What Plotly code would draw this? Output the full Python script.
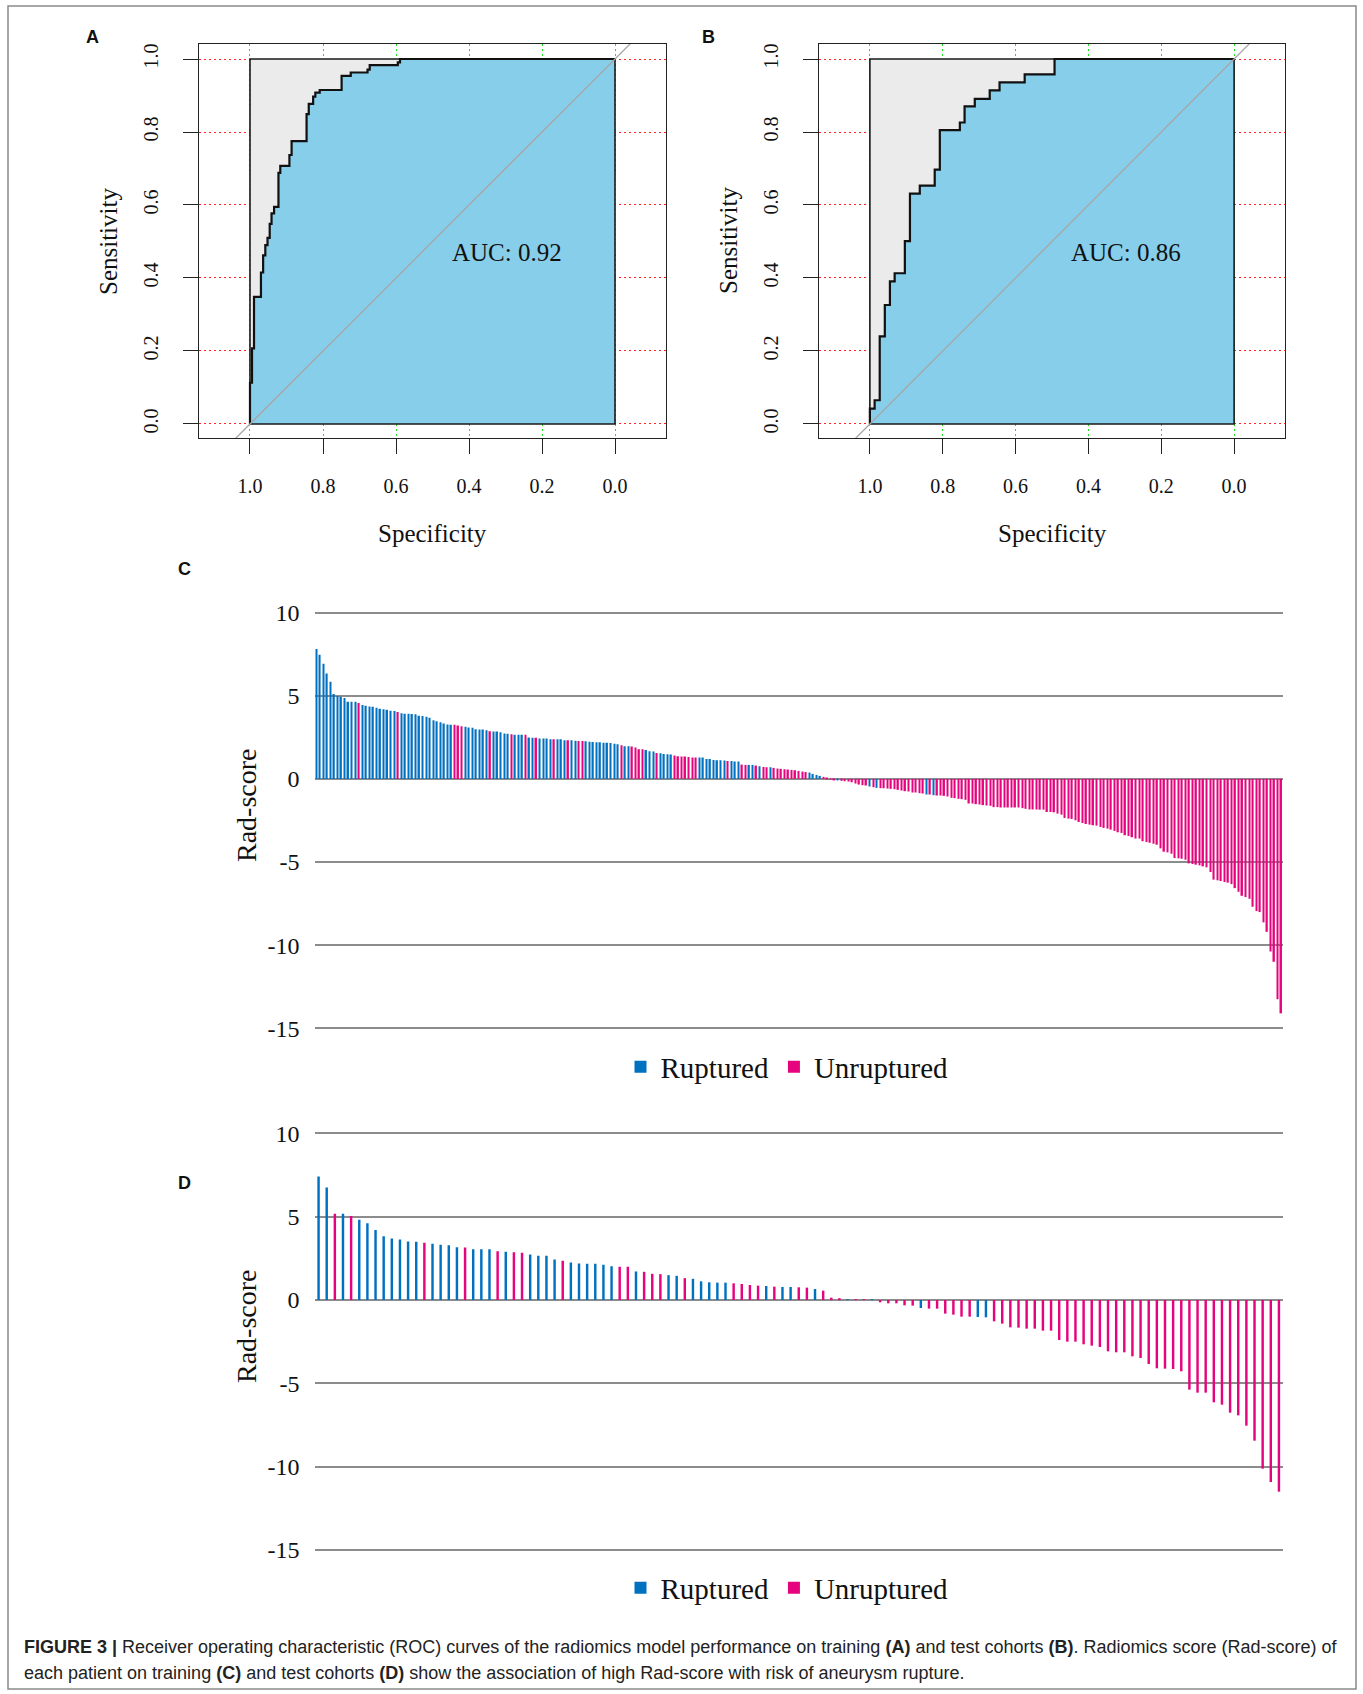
import plotly.graph_objects as go

W, H = 1363, 1694

# ---------------- ROC data (specificity, sensitivity step vertices) ----------------
spec_A = [1.0, 0.9945, 0.989, 0.970, 0.964, 0.958, 0.952, 0.946, 0.941, 0.934, 0.922, 0.917,
          0.892, 0.886, 0.845, 0.839, 0.827, 0.821, 0.809, 0.749, 0.724, 0.678, 0.672, 0.595,
          0.589, 0.0]
sens_A = [0.0, 0.113, 0.207, 0.348, 0.415, 0.462, 0.490, 0.510, 0.548, 0.577, 0.595, 0.688,
          0.707, 0.737, 0.775, 0.849, 0.877, 0.897, 0.908, 0.915, 0.954, 0.963, 0.971, 0.983,
          0.991, 1.0]
spec_B = [1.0, 0.987, 0.973, 0.959, 0.945, 0.932, 0.904, 0.890, 0.863, 0.822, 0.808, 0.753,
          0.740, 0.712, 0.671, 0.644, 0.575, 0.493, 0.0]
sens_B = [0.0, 0.042, 0.065, 0.240, 0.326, 0.391, 0.413, 0.501, 0.631, 0.653, 0.697, 0.805,
          0.826, 0.870, 0.891, 0.914, 0.936, 0.958, 1.0]
auc_A = "AUC: 0.92"
auc_B = "AUC: 0.86"
roc_ticks = [1.0, 0.8, 0.6, 0.4, 0.2, 0.0]
roc_ticktext = ["1.0", "0.8", "0.6", "0.4", "0.2", "0.0"]

# ---------------- Rad-score data ----------------
# training cohort (C), sorted descending
rad_C = [7.81, 7.47, 6.93, 6.33, 5.84, 5.10, 4.98, 4.94, 4.86, 4.64, 4.64, 4.64, 4.56, 4.44,
         4.40, 4.36, 4.34, 4.28, 4.22, 4.18, 4.16, 4.10, 4.08, 4.02, 3.94, 3.92, 3.92, 3.90,
         3.88, 3.80, 3.78, 3.73, 3.67, 3.53, 3.47, 3.41, 3.33, 3.27, 3.25, 3.25, 3.21, 3.17,
         3.13, 3.09, 3.07, 2.99, 2.97, 2.97, 2.93, 2.87, 2.85, 2.85, 2.81, 2.73, 2.71, 2.69,
         2.65, 2.65, 2.65, 2.65, 2.49, 2.47, 2.47, 2.43, 2.43, 2.43, 2.39, 2.39, 2.39,
         2.38, 2.32, 2.32, 2.32, 2.30, 2.28, 2.28, 2.26, 2.24, 2.22, 2.20, 2.20, 2.18, 2.18,
         2.16, 2.12, 2.08, 2.02, 1.96, 1.96, 1.94, 1.88, 1.78, 1.78, 1.74, 1.66, 1.64, 1.56,
         1.54, 1.50, 1.48, 1.46, 1.40, 1.36, 1.34, 1.34, 1.32, 1.28, 1.28, 1.28, 1.28, 1.20,
         1.20, 1.14, 1.12, 1.12, 1.10, 1.08, 1.08, 1.04, 1.04, 0.86, 0.84, 0.84, 0.84, 0.80,
         0.76, 0.72, 0.70, 0.70,
         0.66, 0.62, 0.60, 0.58, 0.56, 0.54, 0.52, 0.48, 0.44, 0.41,
         0.38, 0.30, 0.24, 0.18,
         0.12, 0.06, 0.02, -0.06,
         -0.08,
         -0.12, -0.14, -0.16, -0.20, -0.28, -0.34, -0.38, -0.40,
         -0.46, -0.50, -0.54,
         -0.56, -0.56, -0.58, -0.60, -0.62, -0.66, -0.70, -0.74, -0.76, -0.82, -0.82, -0.86, -0.88,
         -0.94, -0.94, -0.98,
         -1.00, -1.00, -1.02, -1.06, -1.14, -1.16, -1.20, -1.22, -1.26, -1.48, -1.48, -1.52,
         -1.54, -1.58, -1.60, -1.62, -1.70, -1.70, -1.72, -1.72, -1.72, -1.72, -1.72, -1.72,
         -1.76, -1.80, -1.84, -1.84, -1.84,
         -1.85, -1.85, -1.99, -1.99, -2.01, -2.09, -2.15, -2.35, -2.39, -2.41,
         -2.49, -2.59, -2.65, -2.71, -2.75, -2.79, -2.81, -2.89, -2.95, -2.99,
         -3.05, -3.13, -3.21, -3.25, -3.39, -3.43, -3.51, -3.59, -3.59, -3.75,
         -3.80, -3.84, -3.90, -3.96, -4.18, -4.38, -4.42, -4.50, -4.76, -4.78,
         -4.80, -4.86, -5.08, -5.12, -5.16, -5.20, -5.26, -5.32, -5.60, -6.06,
         -6.10, -6.14, -6.20, -6.24, -6.33, -6.57, -6.79, -7.03, -7.11, -7.21,
         -7.69, -7.95, -8.01, -8.63, -9.20, -10.38, -11.00, -13.25, -14.10]
# R = ruptured, U = unruptured (one letter per bar, groups of ten)
grp_C = ("RRRRRRRRRR" "RRURRRRRRR" "RRRURRRRRR" "RRRRRRRRRU" "UURRRRRRRU"
         "RRRRRURRRU" "RRURRRRURR" "RURRUURRRR" "RRRRRRURRU" "UUURRRURRR"
         "RUUUUUUURR" "RRRRRRURRR" "UURRURUURU" "UUUUUUUUUR" "RRRUUUURUU"
         "UUUUUURURU" "UUUUUUUUUU" "UURURUUUUU"
         "UUUUUUUUUU" "UUUUUUUUUU" "UUUUUUUUUU" "UUUUUUUUUU" "UUUUUUUUUU"
         "UUUUUUUUUU" "UUUUUUUUUU" "UUUUUUUUUU" "UUUUUUUUUU" "UUU")

# test cohort (D)
rad_D = [7.41, 6.75, 5.18, 5.18, 5.04, 4.82, 4.60, 4.20, 3.82, 3.69, 3.63, 3.51, 3.49, 3.43,
         3.37, 3.31, 3.29, 3.17, 3.15, 3.05, 3.05, 3.05, 2.93, 2.89, 2.87, 2.83, 2.73, 2.65,
         2.65, 2.43, 2.35, 2.25, 2.19, 2.17, 2.17, 2.11, 2.03, 1.99, 1.99, 1.71, 1.69, 1.57,
         1.55, 1.49, 1.45, 1.31, 1.27, 1.12, 1.06, 1.04, 1.04, 1.00, 0.96, 0.90, 0.86, 0.84,
         0.80, 0.78, 0.78, 0.76, 0.74, 0.66, 0.56, 0.14, 0.06, 0.04, 0.03, 0.02, 0.01,
         -0.14, -0.20, -0.20, -0.32, -0.34, -0.48, -0.52, -0.52, -0.82, -0.88, -1.00, -1.00,
         -1.02, -1.04, -1.28, -1.42, -1.64, -1.66, -1.72, -1.72, -1.84, -1.84, -2.40, -2.50,
         -2.50, -2.66, -2.74, -2.82, -3.08, -3.14, -3.14, -3.38, -3.48, -3.84, -4.10, -4.12,
         -4.14, -4.28, -5.38, -5.56, -5.56, -6.14, -6.28, -6.76, -6.92, -7.54, -8.44, -10.12,
         -10.92, -11.50]
grp_D = ("RRURURRRRR" "RRRURRRRUR" "RRURUURRRR" "URRRRRRUUR" "UUURRURRRR"
         "RUUUURURRU" "URUUURUURU" "UUUURUUUUU" "URRUUUUUUU"
         "UUUUUUUUUU" "UUUUUUUUUU" "UUUUUUUUU")

rad_ticks = [10, 5, 0, -5, -10, -15]
rad_ticktext = ["10", "5", "0", "-5", "-10", "-15"]
group_names = {"R": "Ruptured", "U": "Unruptured"}
group_colors = {"R": "#0070C0", "U": "#E5047E"}

SERIF = "Liberation Serif"
SANS = "Liberation Sans"


def px(x):
    return x / W


def py(y):
    return 1 - y / H


def step_path(spec, sens):
    xs, ys = [spec[0]], [sens[0]]
    for k in range(1, len(spec)):
        xs += [spec[k - 1], spec[k]]
        ys += [sens[k], sens[k]]
    return xs, ys


fig = go.Figure()

# ---------------- ROC panels ----------------
for i, (spec, sens, auc) in enumerate([(spec_A, sens_A, auc_A), (spec_B, sens_B, auc_B)]):
    xa, ya = ("x", "y") if i == 0 else ("x2", "y2")
    sq_x, sq_y = [1, 0, 0, 1, 1], [0, 0, 1, 1, 0]
    fig.add_trace(go.Scatter(x=sq_x, y=sq_y, fill="toself", fillcolor="#EBEBEB",
                             line=dict(width=0), mode="lines", xaxis=xa, yaxis=ya,
                             showlegend=False, hoverinfo="skip"))
    sx, sy = step_path(spec, sens)
    fig.add_trace(go.Scatter(x=sx + [0, 1, 1], y=sy + [0, 0, 0], fill="toself",
                             fillcolor="#87CEEB", line=dict(width=0), mode="lines",
                             xaxis=xa, yaxis=ya, showlegend=False, hoverinfo="skip"))
    fig.add_trace(go.Scatter(x=sq_x, y=sq_y, mode="lines",
                             line=dict(color="#1a1a1a", width=1.6),
                             xaxis=xa, yaxis=ya, showlegend=False, hoverinfo="skip"))
    fig.add_trace(go.Scatter(x=sx, y=sy, mode="lines", line=dict(color="#111111", width=2.2),
                             xaxis=xa, yaxis=ya, showlegend=False, hoverinfo="skip"))
    fig.add_trace(go.Scatter(x=[1.3, -0.3], y=[-0.3, 1.3], mode="lines",
                             line=dict(color="#A6A6A6", width=1.3),
                             xaxis=xa, yaxis=ya, showlegend=False, hoverinfo="skip"))
    fig.add_annotation(x=0.296, y=0.471, xref=xa, yref=ya, text=auc, showarrow=False,
                       xanchor="center", yanchor="middle",
                       font=dict(family=SERIF, size=25, color="#111111"))

roc_x_common = dict(range=[1.1397, -0.1397], tickvals=roc_ticks, ticktext=roc_ticktext,
                    ticks="outside", ticklen=15, tickwidth=1.2, tickcolor="#222222",
                    showline=True, mirror=True, linecolor="#222222", linewidth=1.3,
                    showgrid=True, gridcolor="#22E022", griddash="1.5px,3.5px", gridwidth=1.3,
                    zeroline=False, tickfont=dict(family=SERIF, size=20, color="#111111"),
                    ticklabelstandoff=15, fixedrange=True, automargin=False)
roc_y_common = dict(range=[-0.0384, 1.0411], tickvals=roc_ticks, ticktext=roc_ticktext,
                    ticks="outside", ticklen=15, tickwidth=1.2, tickcolor="#222222",
                    showline=True, mirror=True, linecolor="#222222", linewidth=1.3,
                    showgrid=True, gridcolor="#FF2020", griddash="1.5px,3.5px", gridwidth=1.3,
                    zeroline=False, tickangle=-90,
                    tickfont=dict(family=SERIF, size=20, color="#111111"),
                    ticklabelstandoff=17, fixedrange=True, automargin=False)

fig.update_layout(
    xaxis=dict(domain=[px(199), px(666)], anchor="y", **roc_x_common),
    yaxis=dict(domain=[py(438), py(44)], anchor="x", **roc_y_common),
    xaxis2=dict(domain=[px(819), px(1285)], anchor="y2", **roc_x_common),
    yaxis2=dict(domain=[py(438), py(44)], anchor="x2", **roc_y_common),
)


# ---------------- Rad-score bar panels ----------------
def bar_panel(values, groups, xa, ya, legend, width):
    for g in ["R", "U"]:
        yv = [v if gg == g else None for v, gg in zip(values, groups)]
        fig.add_trace(go.Bar(x=list(range(len(values))), y=yv, name=group_names[g],
                             marker=dict(color=group_colors[g], line=dict(width=0)),
                             width=width, xaxis=xa, yaxis=ya, legend=legend,
                             hoverinfo="skip"))


bar_panel(rad_C, grp_C, "x3", "y3", "legend", 0.42)
bar_panel(rad_D, grp_D, "x4", "y4", "legend2", 0.3)

ext = 0.25  # small extension so edge gridlines are fully visible


def rad_axes(n, top_px, bottom_px, xname, yname):
    ppu = (bottom_px - top_px) / 25.0
    xaxis = dict(domain=[px(314.5), px(1283)], range=[-0.5, n - 0.5], anchor=yname,
                 showticklabels=False, ticks="", showline=False, showgrid=False,
                 zeroline=False, fixedrange=True, automargin=False)
    yaxis = dict(domain=[py(bottom_px + ext * ppu), py(top_px - ext * ppu)],
                 range=[-15 - ext, 10 + ext], anchor=xname,
                 tickvals=rad_ticks, ticktext=rad_ticktext, ticks="",
                 showline=False, showgrid=True, gridcolor="#8C8C8C", gridwidth=2.3,
                 zeroline=False, ticklabelstandoff=14, automargin=False,
                 tickfont=dict(family=SERIF, size=24, color="#111111"), fixedrange=True)
    return xaxis, yaxis


x3, y3 = rad_axes(len(rad_C), 612.6, 1028.3, "x3", "y3")
x4, y4 = rad_axes(len(rad_D), 1133.3, 1550.0, "x4", "y4")

legend_common = dict(orientation="h", xanchor="center", yanchor="middle",
                     font=dict(family=SERIF, size=29, color="#111111"),
                     bgcolor="rgba(0,0,0,0)", itemclick=False, itemdoubleclick=False,
                     tracegroupgap=0)

fig.update_layout(
    xaxis3=x3, yaxis3=y3, xaxis4=x4, yaxis4=y4,
    barmode="overlay",
    legend=dict(x=px(787), y=py(1067), **legend_common),
    legend2=dict(x=px(787), y=py(1588), **legend_common),
)

# ---------------- text annotations ----------------
texts = [
    ("<b>A</b>", 92, 37, SANS, 18, 0),
    ("<b>B</b>", 708, 37, SANS, 18, 0),
    ("<b>C</b>", 184, 569, SANS, 18, 0),
    ("<b>D</b>", 184, 1183, SANS, 18, 0),
    ("Specificity", 432.5, 533, SERIF, 25, 0),
    ("Specificity", 1052.5, 533, SERIF, 25, 0),
    ("Sensitivity", 108, 241, SERIF, 25, -90),
    ("Sensitivity", 728, 241, SERIF, 25, -90),
    ("Rad-score", 246, 805, SERIF, 28, -90),
    ("Rad-score", 246, 1326, SERIF, 28, -90),
]
for t, x, y, fam, size, ang in texts:
    fig.add_annotation(x=px(x), y=py(y), xref="paper", yref="paper", text=t,
                       showarrow=False, textangle=ang, xanchor="center", yanchor="middle",
                       font=dict(family=fam, size=size, color="#111111"))

cap1 = ("<b>FIGURE 3 |</b> Receiver operating characteristic (ROC) curves of the radiomics model "
        "performance on training <b>(A)</b> and test cohorts <b>(B)</b>. Radiomics score "
        "(Rad-score) of")
cap2 = ("each patient on training <b>(C)</b> and test cohorts <b>(D)</b> show the association "
        "of high Rad-score with risk of aneurysm rupture.")
for t, y in [(cap1, 1647), (cap2, 1673)]:
    fig.add_annotation(x=px(21.6), y=py(y), xref="paper", yref="paper", text=t,
                       showarrow=False, xanchor="left", yanchor="middle",
                       font=dict(family=SANS, size=18, color="#222222"))

fig.add_shape(type="rect", xref="paper", yref="paper", x0=px(8), x1=px(1356),
              y0=py(1689), y1=py(6), line=dict(color="#8A8A8A", width=1.5))

fig.update_layout(width=W, height=H, autosize=False,
                  margin=dict(l=0, r=0, t=0, b=0, pad=0, autoexpand=False),
                  paper_bgcolor="white", plot_bgcolor="white",
                  font=dict(family=SERIF, color="#111111"))

fig.write_html("out.html", config={"displayModeBar": False},
               post_script="document.body.style.margin='0';"
                           "document.documentElement.style.overflow='hidden';")
